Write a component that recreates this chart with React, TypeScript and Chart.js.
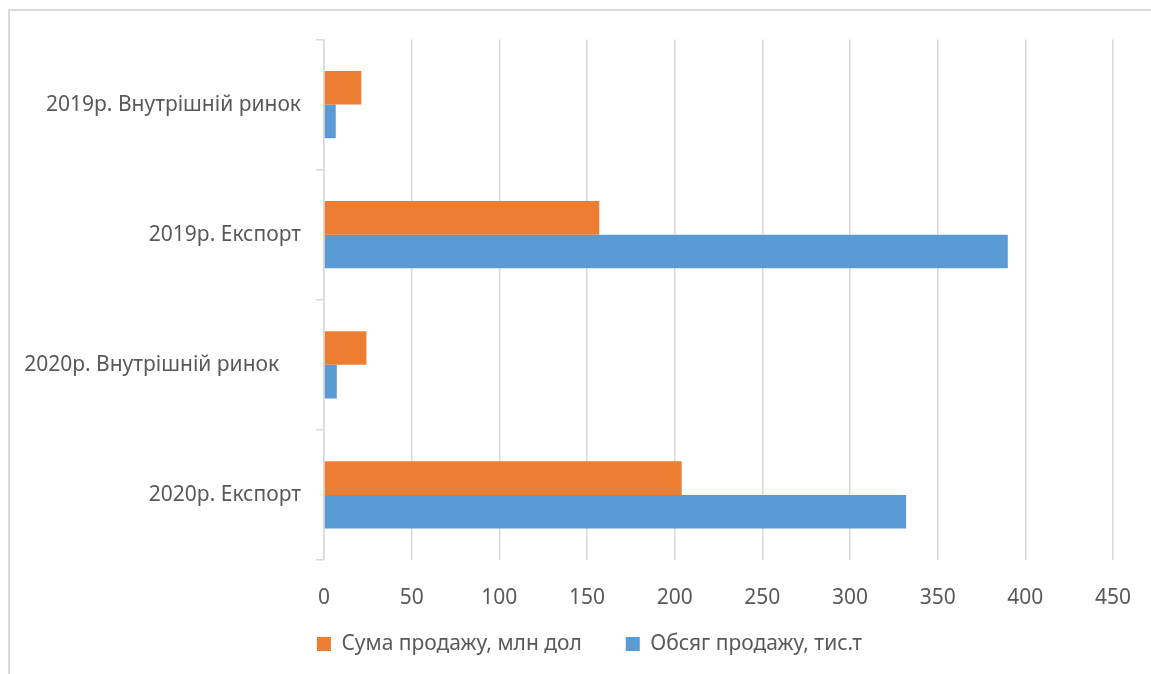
import React, { useEffect, useRef } from 'react';
import Chart from 'chart.js/auto';

// categories, top to bottom
const categories = [
  '2019р. Внутрішній ринок',
  '2019р. Експорт',
  '2020р. Внутрішній ринок    ',
  '2020р. Експорт',
];

const salesSum = [21.3, 157, 24.2, 204];
const salesVolume = [6.7, 390, 7.3, 332];

const seriesNames = ['Сума продажу, млн дол', 'Обсяг продажу, тис.т'];
const xTicks = [0, 50, 100, 150, 200, 250, 300, 350, 400, 450];

const FONT = '"Noto Sans", sans-serif';
const TEXT = '#595959';
const GRID = '#d9d9d9';

// nudge the legend so it sits under the plot like the Excel original,
// and let the x tick labels draw below their box without clipping
const placeLegend = {
  id: 'placeLegend',
  afterLayout(chart: any) {
    if (chart.legend) {
      chart.legend.left = 66;
      chart.legend.top = 589.5;
    }
    if (chart.scales.x) chart.scales.x.bottom = chart.height;
  },
};

const App: React.FC = () => {
  const chartRef = useRef<HTMLCanvasElement | null>(null);
  const chartInstance = useRef<Chart | null>(null);

  useEffect(() => {
    if (!chartRef.current) return;
    if (chartInstance.current) chartInstance.current.destroy();

    const ctx = chartRef.current.getContext('2d');
    if (!ctx) return;

    chartInstance.current = new Chart(ctx, {
      type: 'bar',
      data: {
        labels: categories,
        datasets: [
          {
            label: seriesNames[0],
            data: salesSum,
            backgroundColor: '#ED7D31',
            categoryPercentage: 0.516,
            barPercentage: 1,
          },
          {
            label: seriesNames[1],
            data: salesVolume,
            backgroundColor: '#5B9BD5',
            categoryPercentage: 0.516,
            barPercentage: 1,
          },
        ],
      },
      options: {
        indexAxis: 'y',
        responsive: false,
        animation: false,
        layout: {
          padding: { top: 39.5, right: 38, left: 10, bottom: 0 },
        },
        scales: {
          x: {
            min: xTicks[0],
            max: xTicks[xTicks.length - 1],
            afterBuildTicks: (scale: any) => {
              scale.ticks = xTicks.map(v => ({ value: v }));
            },
            afterFit: (scale: any) => {
              scale.height = 39;
              scale.paddingLeft = 0;
              scale.paddingRight = 0;
            },
            grid: { color: GRID, lineWidth: 1.5, drawTicks: false },
            border: { display: false },
            ticks: {
              color: TEXT,
              font: { family: FONT, size: 21 },
              padding: 25,
            },
          },
          y: {
            afterFit: (scale: any) => {
              scale.width = 314;
            },
            grid: {
              color: GRID,
              lineWidth: 1.5,
              drawOnChartArea: false,
              drawTicks: true,
              tickLength: 8,
            },
            border: { color: GRID, width: 1.5 },
            ticks: {
              color: TEXT,
              font: { family: FONT, size: 21 },
              padding: 15,
            },
          },
        },
        plugins: {
          legend: {
            position: 'bottom',
            labels: {
              color: TEXT,
              font: { family: FONT, size: 21 },
              boxWidth: 14,
              boxHeight: 14,
              padding: 44,
            },
          },
          tooltip: { enabled: false },
        },
      },
      plugins: [placeLegend],
    });

    // Cleanup
    return () => {
      if (chartInstance.current) {
        chartInstance.current.destroy();
        chartInstance.current = null;
      }
    };
  }, []);

  return (
    <div style={{ position: 'fixed', left: 0, top: 0, width: 1151, height: 674, background: '#fff' }}>
      <div
        style={{
          position: 'absolute',
          left: 8,
          top: 9,
          right: 0,
          bottom: 0,
          borderLeft: '2px solid #d9d9d9',
          borderTop: '2px solid #d9d9d9',
        }}
      />
      <canvas
        ref={chartRef}
        width={1151}
        height={674}
        style={{ position: 'absolute', left: 0, top: 0 }}
      ></canvas>
    </div>
  );
};

export default App;
